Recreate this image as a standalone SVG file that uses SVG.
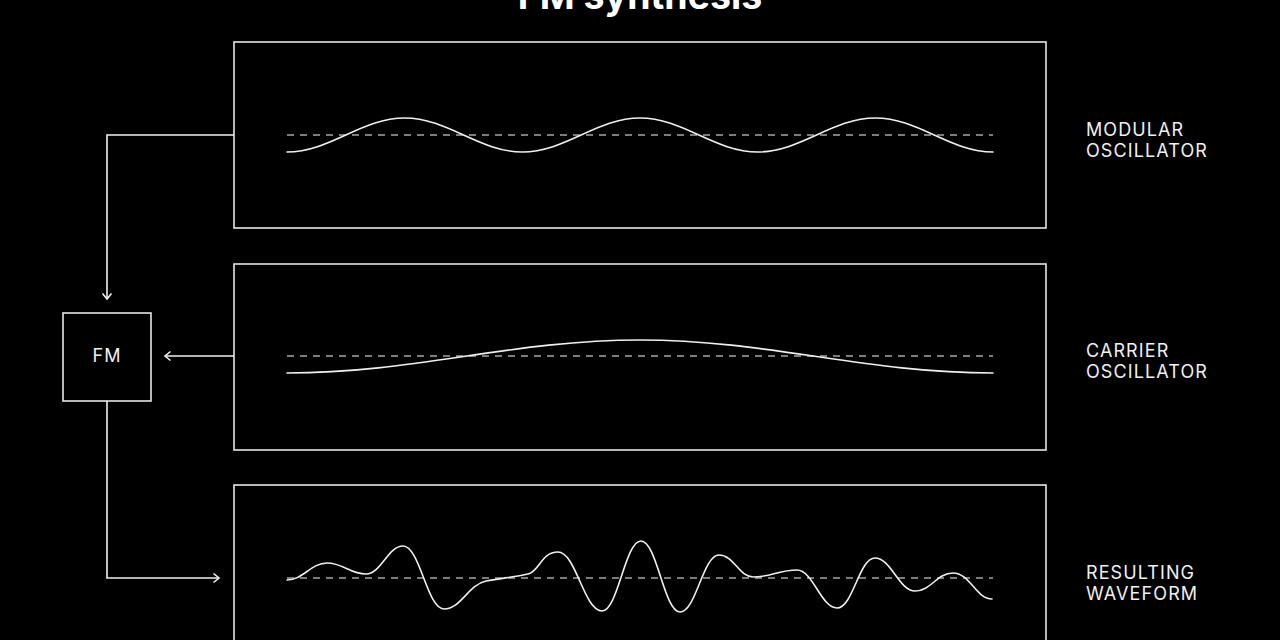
<svg xmlns="http://www.w3.org/2000/svg" width="1280" height="640" viewBox="0 0 1280 640">
  <defs>
    <style>
      .box { fill: none; stroke: #e6e6e6; stroke-width: 1.6; }
      .wave { fill: none; stroke: #f0f0f0; stroke-width: 1.6; stroke-linecap: round; }
      .axis { fill: none; stroke: #a6a6a6; stroke-width: 1.3; stroke-dasharray: 7 6; }
      .conn { fill: none; stroke: #f0f0f0; stroke-width: 1.6; }
      .label { font-family: Inter, "Liberation Sans", sans-serif; font-size: 18px; letter-spacing: 1.1px; fill: #f0f0f0; }
      .title { font-family: Inter, "Liberation Sans", sans-serif; font-size: 37.5px; font-weight: 700; fill: #ffffff; }
    </style>
    <marker id="arrow" viewBox="0 0 12 12" refX="10" refY="6" markerWidth="12" markerHeight="12" markerUnits="userSpaceOnUse" orient="auto">
      <path d="M4.5,1.5 L10,6 L4.5,10.5" fill="none" stroke="#f0f0f0" stroke-width="1.6"/>
    </marker>
  </defs>
  <rect x="0" y="0" width="1280" height="640" fill="#000000"/>

  <text class="title" x="640" y="9" text-anchor="middle">FM synthesis</text>

  <g id="modular-oscillator">
    <rect class="box" x="234" y="42" width="812" height="186"/>
    <line class="axis" x1="287" y1="135" x2="993" y2="135"/>
    <path class="wave" d="M287,152 C329.86,152 361.81,118 404.67,118 C447.53,118 479.47,152 522.33,152 C565.19,152 597.14,118 640,118 C682.86,118 714.81,152 757.67,152 C800.53,152 832.47,118 875.33,118 C918.19,118 950.14,152 993,152"/>
    <text class="label" x="1086" y="136">MODULAR</text>
    <text class="label" x="1086" y="157">OSCILLATOR</text>
  </g>

  <g id="carrier-oscillator">
    <rect class="box" x="234" y="264" width="812" height="186"/>
    <line class="axis" x1="287" y1="356" x2="993" y2="356"/>
    <path class="wave" d="M287,373 C415.6,373 511.4,340 640,340 C768.6,340 864.4,373 993,373"/>
    <text class="label" x="1086" y="357">CARRIER</text>
    <text class="label" x="1086" y="378">OSCILLATOR</text>
  </g>

  <g id="resulting-waveform">
    <rect class="box" x="234" y="485" width="812" height="186"/>
    <line class="axis" x1="287" y1="578" x2="993" y2="578"/>
    <path class="wave" d="M287,580 C303,580 311,563 327,563 C343,563 350,574 366,574 C381,574 388,546 403,546 C420,546 427,609 444,609 C461,609 468,585 486,581 C502,578 515,577 528,574 C540,571 541,552 558,552 C576,552 584,611 602,611 C618,611 625,541 641,541 C657,541 664,612 680,612 C696,612 703,555 719,555 C734,555 739,577 753,577 C771,577 779,570 797,570 C813,570 821,608 837,608 C853,608 859,558 875,558 C891,558 899,591 915,591 C931,591 937,573 953,573 C970,573 976,599 992,599"/>
    <text class="label" x="1086" y="579">RESULTING</text>
    <text class="label" x="1086" y="600">WAVEFORM</text>
  </g>

  <g id="fm">
    <rect class="box" x="63" y="313" width="88" height="88"/>
    <text class="label" x="107" y="362" text-anchor="middle" letter-spacing="1">FM</text>
  </g>

  <g id="connectors">
    <path class="conn" d="M234,135 H107 V299" marker-end="url(#arrow)"/>
    <path class="conn" d="M234,356 H165" marker-end="url(#arrow)"/>
    <path class="conn" d="M107,401 V578 H219" marker-end="url(#arrow)"/>
  </g>
</svg>
